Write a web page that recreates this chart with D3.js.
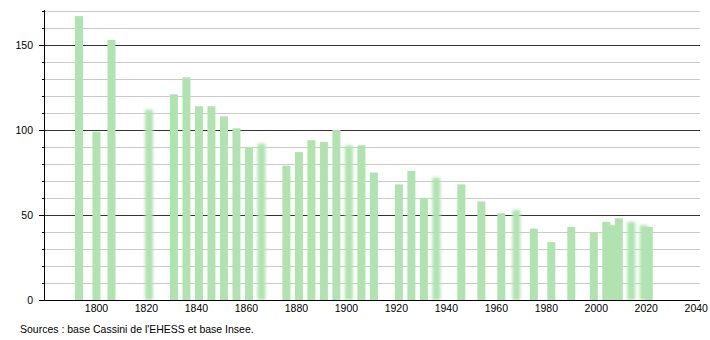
<!DOCTYPE html>
<html>
<head>
<meta charset="utf-8">
<script src="https://cdn.jsdelivr.net/npm/d3@7"></script>
<style>
  body { margin: 0; background: #fff; }
  text { font-family: "Liberation Sans", Arial, sans-serif; fill: #000; }
</style>
</head>
<body>
<div id="chart"></div>
<script>
// census years and population
const years = [1793, 1800, 1806, 1821, 1831, 1836, 1841, 1846, 1851, 1856, 1861, 1866,
  1876, 1881, 1886, 1891, 1896, 1901, 1906, 1911, 1921, 1926, 1931, 1936, 1946, 1954,
  1962, 1968, 1975, 1982, 1990, 1999, 2004, 2006, 2009, 2014, 2019, 2021];
const population = [167, 99, 153, 112, 121, 131, 114, 114, 108, 101, 90, 92,
  79, 87, 94, 93, 100, 91, 91, 75, 68, 76, 60, 72, 68, 58,
  51, 53, 42, 34, 43, 40, 46, 44, 48, 46, 44, 43];
// years drawn with a soft (blurred) bar
const blurredYears = [1821, 1866, 1901, 1936, 1968, 2014, 2019];
const xTicks = [1800, 1820, 1840, 1860, 1880, 1900, 1920, 1940, 1960, 1980, 2000, 2020, 2040];
const yTicks = [0, 50, 100, 150];
const sourceText = "Sources : base Cassini de l'EHESS et base Insee.";

const data = years.map((y, i) => ({year: y, value: population[i], blur: blurredYears.includes(y)}));

const width = 710, height = 340;
const plot = {left: 44, right: 700, top: 11, bottom: 300};

const svg = d3.select("#chart").append("svg")
  .attr("width", width)
  .attr("height", height);

const defs = svg.append("defs");
defs.append("filter")
  .attr("id", "soft")
  .attr("x", "-50%").attr("y", "-10%")
  .attr("width", "200%").attr("height", "120%")
  .append("feGaussianBlur")
  .attr("stdDeviation", "1.4 1.4");

const x = d3.scaleLinear().domain([1779, 2041.5]).range([plot.left, plot.right]);
const y = d3.scaleLinear().domain([0, 170]).range([plot.bottom, plot.top]);

// grid lines every 10, darker every 50
const gridVals = d3.range(10, 171, 10);
svg.append("g")
  .selectAll("line")
  .data(gridVals)
  .join("line")
  .attr("x1", plot.left)
  .attr("x2", plot.right)
  .attr("y1", d => Math.round(y(d)) + 0.5)
  .attr("y2", d => Math.round(y(d)) + 0.5)
  .attr("stroke", d => d % 50 === 0 ? "#333" : "#cacaca")
  .attr("stroke-width", 1);

// bars
const barW = 8;
svg.append("g")
  .selectAll("rect")
  .data(data)
  .join("rect")
  .attr("x", d => x(d.year) - barW / 2)
  .attr("y", d => y(d.value))
  .attr("width", barW)
  .attr("height", d => y(0) - y(d.value))
  .attr("fill", "#b0e3b0")
  .attr("filter", d => d.blur ? "url(#soft)" : null);

// y axis
const yAxis = svg.append("g");
yAxis.append("line")
  .attr("x1", plot.left + 0.5).attr("x2", plot.left + 0.5)
  .attr("y1", plot.top - 1).attr("y2", plot.bottom)
  .attr("stroke", "#000");
yAxis.selectAll("line.minor")
  .data(d3.range(0, 171, 10))
  .join("line")
  .attr("class", "minor")
  .attr("x1", d => d % 50 === 0 ? plot.left - 5 : plot.left - 2)
  .attr("x2", plot.left)
  .attr("y1", d => Math.round(y(d)) + 0.5)
  .attr("y2", d => Math.round(y(d)) + 0.5)
  .attr("stroke", "#000");
yAxis.selectAll("text")
  .data(yTicks)
  .join("text")
  .attr("x", 33)
  .attr("y", d => y(d))
  .attr("dy", "0.35em")
  .attr("text-anchor", "end")
  .attr("font-size", "10.5px")
  .text(d => d);

// x axis
svg.append("line")
  .attr("x1", plot.left).attr("x2", plot.right)
  .attr("y1", plot.bottom + 0.5).attr("y2", plot.bottom + 0.5)
  .attr("stroke", "#000");
svg.append("g")
  .selectAll("text")
  .data(xTicks)
  .join("text")
  .attr("x", d => x(d))
  .attr("y", 312)
  .attr("text-anchor", "middle")
  .attr("font-size", "10.5px")
  .text(d => d);

svg.append("text")
  .attr("x", 20)
  .attr("y", 333)
  .attr("font-size", "10.5px")
  .text(sourceText);
</script>
</body>
</html>
